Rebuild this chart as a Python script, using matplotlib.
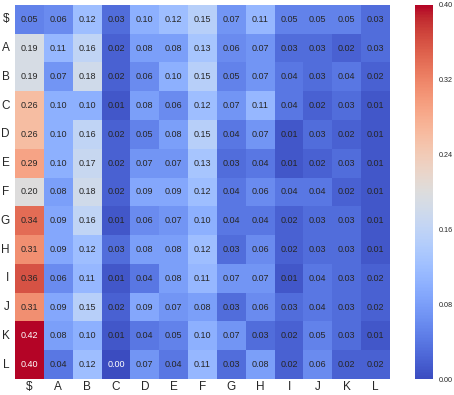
import matplotlib
matplotlib.use("Agg")
import matplotlib.pyplot as plt
import numpy as np
import seaborn as sns

labels = ["$", "A", "B", "C", "D", "E", "F", "G", "H", "I", "J", "K", "L"]
row_dollar = [0.05, 0.06, 0.12, 0.03, 0.10, 0.12, 0.15, 0.07, 0.11, 0.05, 0.05, 0.05, 0.03]
row_A = [0.19, 0.11, 0.16, 0.02, 0.08, 0.08, 0.13, 0.06, 0.07, 0.03, 0.03, 0.02, 0.03]
row_B = [0.19, 0.07, 0.18, 0.02, 0.06, 0.10, 0.15, 0.05, 0.07, 0.04, 0.03, 0.04, 0.02]
row_C = [0.26, 0.10, 0.10, 0.01, 0.08, 0.06, 0.12, 0.07, 0.11, 0.04, 0.02, 0.03, 0.01]
row_D = [0.26, 0.10, 0.16, 0.02, 0.05, 0.08, 0.15, 0.04, 0.07, 0.01, 0.03, 0.02, 0.01]
row_E = [0.29, 0.10, 0.17, 0.02, 0.07, 0.07, 0.13, 0.03, 0.04, 0.01, 0.02, 0.03, 0.01]
row_F = [0.20, 0.08, 0.18, 0.02, 0.09, 0.09, 0.12, 0.04, 0.06, 0.04, 0.04, 0.02, 0.01]
row_G = [0.34, 0.09, 0.16, 0.01, 0.06, 0.07, 0.10, 0.04, 0.04, 0.02, 0.03, 0.03, 0.01]
row_H = [0.31, 0.09, 0.12, 0.03, 0.08, 0.08, 0.12, 0.03, 0.06, 0.02, 0.03, 0.03, 0.01]
row_I = [0.36, 0.06, 0.11, 0.01, 0.04, 0.08, 0.11, 0.07, 0.07, 0.01, 0.04, 0.03, 0.02]
row_J = [0.31, 0.09, 0.15, 0.02, 0.09, 0.07, 0.08, 0.03, 0.06, 0.03, 0.04, 0.03, 0.02]
row_K = [0.42, 0.08, 0.10, 0.01, 0.04, 0.05, 0.10, 0.07, 0.03, 0.02, 0.05, 0.03, 0.01]
row_L = [0.40, 0.04, 0.12, 0.00, 0.07, 0.04, 0.11, 0.03, 0.08, 0.02, 0.06, 0.02, 0.02]
cbar_ticks = [0.00, 0.08, 0.16, 0.24, 0.32, 0.40]

data = np.array([row_dollar, row_A, row_B, row_C, row_D, row_E, row_F,
                 row_G, row_H, row_I, row_J, row_K, row_L])

sns.set_theme(style="white")
plt.rcParams['font.family'] = ['Liberation Sans', 'DejaVu Sans']

fig = plt.figure(figsize=(4.54, 3.95), dpi=100)
ax = fig.add_axes([0.033, 0.0405, 0.826, 0.947])
cax = fig.add_axes([0.914, 0.0405, 0.0396, 0.947])

sns.heatmap(data, ax=ax, cbar_ax=cax, cmap="coolwarm", vmin=0, vmax=0.4,
            annot=True, fmt=".2f", annot_kws={"size": 6.5},
            xticklabels=labels, yticklabels=labels,
            cbar_kws={"ticks": cbar_ticks})
# text colours as in the reference: dark except at the extremes
for t in ax.texts:
    v = float(t.get_text())
    t.set_color("white" if (v >= 0.395 or v <= 0.005) else "#262626")

ax.tick_params(axis='y', labelsize=8.5, length=0, pad=4)
ax.tick_params(axis='x', labelsize=8.5, length=0, pad=1.5)
ax.set_yticklabels(labels, rotation=0)
ax.set_xticklabels(labels, rotation=0)
cax.tick_params(labelsize=5.2, length=0, pad=4)
cax.set_yticklabels([f"{t:.2f}" for t in cbar_ticks])
for s in cax.spines.values():
    s.set_visible(False)

fig.savefig("out.png", dpi=100)
